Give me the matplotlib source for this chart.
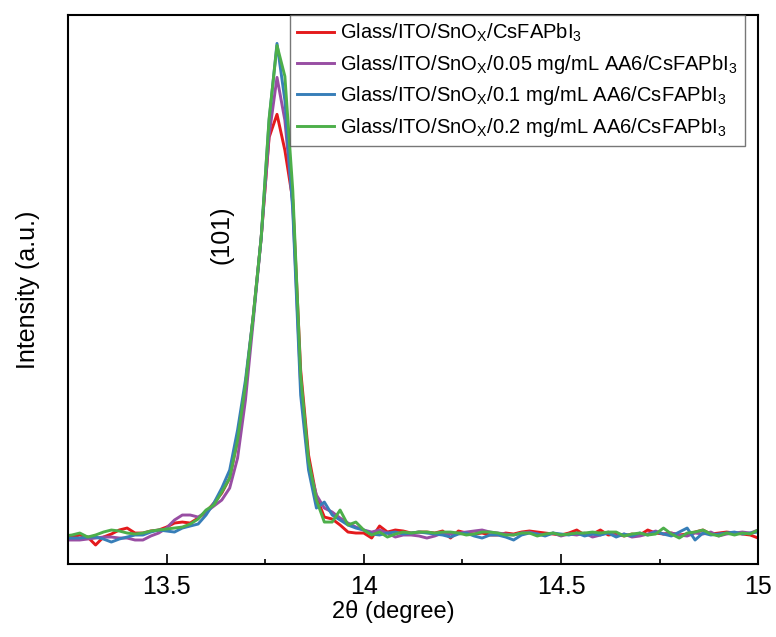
import numpy as np
import matplotlib
matplotlib.use("Agg")
import matplotlib.pyplot as plt
from matplotlib.ticker import MultipleLocator

plt.rcParams['font.family'] = ['Liberation Sans', 'DejaVu Sans']
plt.rcParams['mathtext.fontset'] = 'custom'
plt.rcParams['mathtext.rm'] = 'Liberation Sans'
plt.rcParams['mathtext.it'] = 'Liberation Sans:italic'

# 2theta scan, 0.02 degree step
two_theta = np.round(np.arange(13.24, 15.0001, 0.02), 2)

labels = [
    r'Glass/ITO/SnO$_\mathrm{X}$/CsFAPbI$_\mathrm{3}$',
    r'Glass/ITO/SnO$_\mathrm{X}$/0.05 mg/mL AA6/CsFAPbI$_\mathrm{3}$',
    r'Glass/ITO/SnO$_\mathrm{X}$/0.1 mg/mL AA6/CsFAPbI$_\mathrm{3}$',
    r'Glass/ITO/SnO$_\mathrm{X}$/0.2 mg/mL AA6/CsFAPbI$_\mathrm{3}$',
]
colors = ['#E41A1C', '#984EA3', '#377EB8', '#4DAF4A']

ref = [491, 491, 528, 491, 346, 491, 546, 619, 655, 564, 564, 601, 619, 673,
       746, 764, 746, 837, 946, 1110, 1292, 1565, 2257, 3258, 4532, 5951,
       7771, 8190, 7535, 6625, 3531, 1984, 1219, 855, 819, 710, 582, 564, 564,
       473, 692, 582, 619, 601, 564, 582, 582, 564, 601, 473, 601, 564, 546,
       564, 528, 528, 564, 546, 582, 601, 582, 564, 546, 528, 564, 619, 528,
       546, 619, 528, 546, 510, 546, 528, 619, 564, 546, 564, 528, 546, 582,
       619, 546, 564, 582, 564, 546, 528, 473]

aa6_005 = [437, 437, 437, 455, 473, 491, 491, 473, 473, 437, 437, 510, 564, 655,
           801, 892, 892, 855, 946, 1056, 1165, 1383, 1929, 2985, 4441, 5951,
           7808, 8863, 8081, 6534, 3258, 1802, 1256, 1019, 946, 837, 746, 673, 619,
           582, 619, 564, 491, 528, 528, 510, 473, 510, 564, 546, 564, 582,
           601, 619, 582, 564, 546, 528, 564, 582, 546, 528, 564, 510, 546,
           528, 564, 491, 528, 582, 510, 546, 491, 510, 546, 601, 546, 564,
           528, 510, 564, 546, 582, 510, 546, 564, 582, 564, 619]

aa6_01 = [473, 473, 473, 491, 491, 455, 400, 455, 491, 528, 528, 582, 619, 601,
          582, 655, 692, 728, 892, 1110, 1383, 1711, 2439, 3349, 4532, 5951,
          8081, 9482, 8445, 6443, 3076, 1711, 1019, 1128, 892, 801, 710, 655, 619,
          546, 528, 564, 582, 546, 564, 582, 564, 546, 528, 491, 546, 564,
          510, 473, 528, 528, 491, 437, 528, 564, 546, 510, 564, 546, 528,
          564, 510, 546, 528, 564, 491, 546, 510, 564, 528, 582, 546, 510,
          582, 655, 437, 564, 528, 546, 564, 582, 546, 564, 582]

aa6_02 = [510, 528, 564, 491, 528, 582, 619, 601, 564, 546, 564, 601, 619, 637,
          655, 673, 728, 819, 983, 1074, 1310, 1565, 2257, 3258, 4532, 5951,
          8117, 9446, 8882, 6807, 3440, 1893, 1165, 764, 764, 983, 710, 764, 619,
          528, 582, 491, 546, 582, 564, 582, 582, 564, 582, 582, 564, 528,
          546, 582, 582, 564, 528, 528, 564, 564, 510, 546, 564, 528, 546,
          564, 564, 582, 564, 582, 582, 510, 546, 564, 528, 546, 655, 546,
          473, 564, 582, 619, 546, 510, 564, 528, 564, 546, 619]

series = [ref, aa6_005, aa6_01, aa6_02]

fig = plt.figure(figsize=(7.76, 6.37), dpi=100)
ax = fig.add_axes([0.0876, 0.1146, 0.8894, 0.8619])

for y, c, lab in zip(series, colors, labels):
    ax.plot(two_theta, y, color=c, lw=2.1, label=lab)

ax.set_xlim(13.25, 15.0)
ax.set_ylim(0, 10000)
ax.xaxis.set_minor_locator(MultipleLocator(0.25))
ax.set_xticks([13.5, 14, 14.5, 15])
ax.set_xticklabels(['13.5', '14', '14.5', '15'])
ax.set_yticks([])
ax.tick_params(axis='x', which='major', direction='in', length=7, width=1.2,
               labelsize=18, pad=8, top=False)
ax.tick_params(axis='x', which='minor', direction='in', length=3.5, width=1.2,
               top=False)
for s in ax.spines.values():
    s.set_linewidth(1.5)

ax.set_xlabel('2θ (degree)', fontsize=17)
ax.xaxis.set_label_coords(0.472, -0.066)
ax.set_ylabel('Intensity (a.u.)', fontsize=18)
ax.yaxis.set_label_coords(-0.040, 0.5)

ax.text(13.64, 5990, '(101)', rotation=90, fontsize=18, ha='center', va='center')

leg = ax.legend(loc='upper right', bbox_to_anchor=(0.981, 1.0), fontsize=14.5,
                frameon=True, fancybox=False, edgecolor='#555555',
                handlelength=1.85, handletextpad=0.3, labelspacing=0.42,
                borderpad=0.35, borderaxespad=0.0)
leg.get_frame().set_linewidth(1.0)

fig.savefig('out.png', dpi=100)
